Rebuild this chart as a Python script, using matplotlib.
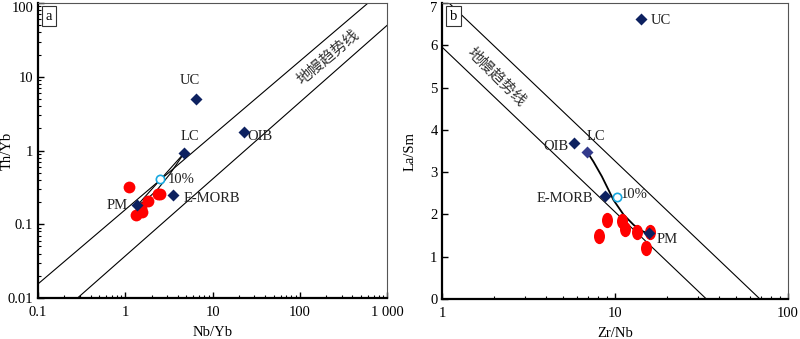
import numpy as np
import matplotlib
matplotlib.use("Agg")
from matplotlib import pyplot as plt
from matplotlib.path import Path
from matplotlib.transforms import ScaledTranslation
from matplotlib.ticker import FixedLocator, LogLocator, NullFormatter

plt.rcParams['font.family'] = ['Liberation Serif', 'Noto Sans CJK SC']
plt.rcParams['font.size'] = 10.5

# ---- panel a: Th/Yb vs Nb/Yb ----
a_ref_names = ['UC', 'LC', 'OIB', 'E-MORB', 'PM']
a_ref_x = [6.5, 4.75, 22.6, 3.5, 1.37]
a_ref_y = [5.0, 0.93, 1.78, 0.246, 0.18]
a_sample_x = [1.1, 1.32, 1.57, 1.53, 1.84, 2.34, 2.52]
a_sample_y = [0.32, 0.134, 0.147, 0.168, 0.209, 0.26, 0.255]
a_mix10 = (2.49, 0.41)
a_mix_curve_x = [1.37, 1.7, 2.3, 3.2, 4.75]
a_mix_curve_y = [0.18, 0.21, 0.29, 0.47, 0.93]
a_upper_x = [0.1, 603]
a_upper_y = [0.0155, 100]
a_lower_x = [0.284, 1000]
a_lower_y = [0.01, 50]

# ---- panel b: La/Sm vs Zr/Nb ----
b_ref_names = ['UC', 'LC', 'OIB', 'E-MORB', 'PM']
b_ref_x = [14.1, 6.88, 5.78, 8.75, 15.7]
b_ref_y = [6.63, 3.48, 3.69, 2.43, 1.555]
b_sample_x = [8.1, 9.0, 10.9, 11.4, 13.4, 15.1, 15.8]
b_sample_y = [1.50, 1.86, 1.855, 1.665, 1.58, 1.215, 1.58]
b_mix10 = (10.3, 2.41)
b_mix_curve_x = [6.88, 7.48, 8.37, 9.15, 9.78, 11.2, 12.8, 14.6, 15.7]
b_mix_curve_y = [3.48, 3.25, 2.90, 2.58, 2.34, 1.99, 1.75, 1.59, 1.555]
b_upper_x = [1.0, 68.8]
b_upper_y = [7.15, 0.0]
b_lower_x = [1.0, 33.7]
b_lower_y = [5.95, 0.0]

navy = '#0d2160'
red = '#ff0000'
cyan = '#18a8e0'

fig = plt.figure(figsize=(8, 3.39), dpi=100)
ax1 = fig.add_axes([0.0475, 0.121, 0.4365, 0.870])
ax2 = fig.add_axes([0.553, 0.118, 0.432, 0.873])


def style_axes(ax):
    for s in ['left', 'bottom']:
        ax.spines[s].set_linewidth(1.6)
    for s in ['top', 'right']:
        ax.spines[s].set_linewidth(0.8)
        ax.spines[s].set_color('#555555')
    ax.tick_params(which='both', direction='in', top=False, right=False)
    ax.tick_params(which='major', length=4, width=1, labelsize=10.5)
    ax.tick_params(axis='x', which='major', pad=6)
    ax.tick_params(which='minor', length=2.5, width=0.8)


def nudge_top_label(ax):
    # top y tick label sits at the figure edge; shift it down a little
    lbl = ax.get_yticklabels()[-1]
    lbl.set_transform(lbl.get_transform() + ScaledTranslation(0, -3 / 72, fig.dpi_scale_trans))


# panel a
ax1.set_xscale('log')
ax1.set_yscale('log')
ax1.set_xlim(0.1, 1000)
ax1.set_ylim(0.01, 100)
ax1.plot(a_upper_x, a_upper_y, color='k', lw=0.8)
ax1.plot(a_lower_x, a_lower_y, color='k', lw=0.8)
ax1.plot([a_ref_x[4], a_ref_x[1]], [a_ref_y[4], a_ref_y[1]], color='k', lw=0.8)
ax1.plot(a_mix_curve_x, a_mix_curve_y, color='k', lw=0.8)
ax1.plot(a_sample_x, a_sample_y, 'o', color=red, ms=8.5, mec='none', zorder=3)
ax1.plot(a_ref_x, a_ref_y, 'D', color=navy, ms=6, mec='none', zorder=4)
ax1.plot(*a_mix10, 'o', mfc='white', mec=cyan, mew=1.2, ms=6, zorder=5)
ax1.set_xticks([0.1, 1, 10, 100, 1000])
ax1.set_xticklabels(['0.1', '1', '10', '100', '1 000'])
ax1.set_yticks([0.01, 0.1, 1, 10, 100])
ax1.set_yticklabels(['0.01', '0.1', '1', '10', '100'])
ax1.xaxis.set_minor_locator(LogLocator(base=10, subs=np.arange(2, 10)))
ax1.yaxis.set_minor_locator(LogLocator(base=10, subs=np.arange(2, 10)))
ax1.xaxis.set_minor_formatter(NullFormatter())
ax1.yaxis.set_minor_formatter(NullFormatter())
ax1.set_xlabel('Nb/Yb')
ax1.set_ylabel('Th/Yb')
ax1.xaxis.set_label_coords(0.5, -0.095)
ax1.yaxis.set_label_coords(-0.069, 0.5)
style_axes(ax1)
nudge_top_label(ax1)

lab = dict(fontsize=10.5, color='#222222')
ax1.text(5.5, 7.3, 'UC', ha='center', va='bottom', **lab)
ax1.text(5.45, 1.25, 'LC', ha='center', va='bottom', **lab)
ax1.text(25, 1.56, 'OIB', ha='left', va='center', **lab)
ax1.text(3.1, 0.41, '10%', ha='left', va='center', **lab)
ax1.text(4.7, 0.224, 'E-MORB', ha='left', va='center', **lab)
ax1.text(1.07, 0.18, 'PM', ha='right', va='center', **lab)
ax1.text(210, 18.8, '地幔趋势线', rotation=40, ha='center', va='center',
         fontsize=11, color='#333333', family=['Noto Sans CJK SC', 'DejaVu Sans'])
ax1.text(0.022, 0.978, 'a', transform=ax1.transAxes, ha='left', va='top', fontsize=10.5,
         bbox=dict(boxstyle='square,pad=0.25', fc='white', ec='#333333', lw=0.8))

# panel b
ellipse = Path(Path.unit_circle().vertices * np.array([0.72, 1.0]), Path.unit_circle().codes)
ax2.set_xscale('log')
ax2.set_xlim(1, 100)
ax2.set_ylim(0, 7)
ax2.plot(b_upper_x, b_upper_y, color='k', lw=0.8)
ax2.plot(b_lower_x, b_lower_y, color='k', lw=0.8)
ax2.plot(b_mix_curve_x, b_mix_curve_y, color='k', lw=1.3)
ax2.plot(b_sample_x, b_sample_y, ls='none', marker=ellipse, color=red, ms=11, mec='none', zorder=3)
b_colors = [navy, '#333a8c', navy, navy, navy]
for x, y, c in zip(b_ref_x, b_ref_y, b_colors):
    ax2.plot(x, y, 'D', color=c, ms=6.5, mec='none', zorder=4)
ax2.plot(*b_mix10, 'o', mfc='white', mec=cyan, mew=1.2, ms=6, zorder=5)
ax2.set_xticks([1, 10, 100])
ax2.set_xticklabels(['1', '10', '100'])
ax2.xaxis.set_minor_locator(LogLocator(base=10, subs=np.arange(2, 10)))
ax2.xaxis.set_minor_formatter(NullFormatter())
ax2.yaxis.set_major_locator(FixedLocator(range(0, 8)))
ax2.set_xlabel('Zr/Nb')
ax2.set_ylabel('La/Sm')
ax2.xaxis.set_label_coords(0.5, -0.095)
ax2.yaxis.set_label_coords(-0.074, 0.5)
style_axes(ax2)
nudge_top_label(ax2)

ax2.text(16.1, 6.59, 'UC', ha='left', va='center', **lab)
ax2.text(6.85, 3.84, 'LC', ha='left', va='center', **lab)
ax2.text(5.35, 3.61, 'OIB', ha='right', va='center', **lab)
ax2.text(7.5, 2.38, 'E-MORB', ha='right', va='center', **lab)
ax2.text(10.7, 2.46, '10%', ha='left', va='center', **lab)
ax2.text(17.3, 1.41, 'PM', ha='left', va='center', **lab)
ax2.text(2.06, 5.26, '地幔趋势线', rotation=-45, ha='center', va='center',
         fontsize=11, color='#333333', family=['Noto Sans CJK SC', 'DejaVu Sans'])
ax2.text(0.022, 0.978, 'b', transform=ax2.transAxes, ha='left', va='top', fontsize=10.5,
         bbox=dict(boxstyle='square,pad=0.25', fc='white', ec='#333333', lw=0.8))

fig.savefig('out.png', dpi=100)
